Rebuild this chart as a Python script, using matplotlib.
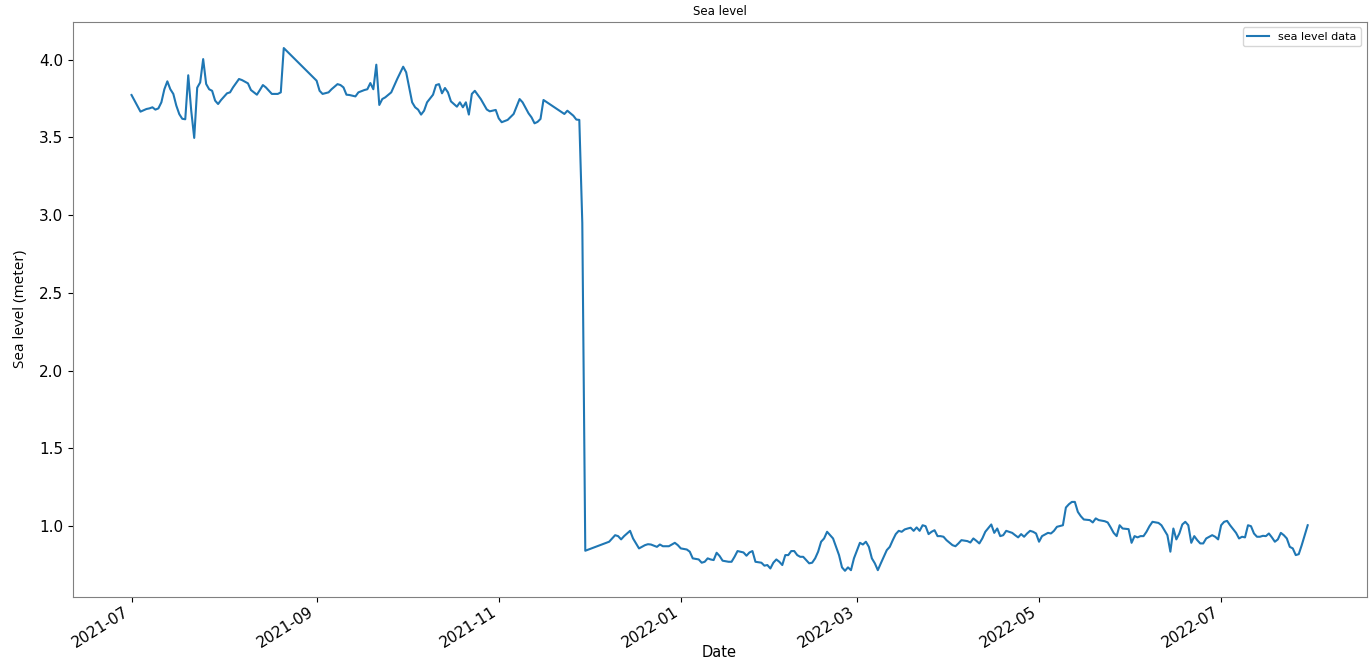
import numpy as np
import pandas as pd
import matplotlib
matplotlib.use("Agg")
import matplotlib.pyplot as plt
import matplotlib.dates as mdates

start_date = "2021-07-01"

# days since start_date
day = [
    0, 1, 3, 5, 6, 7, 8, 9, 10, 11, 12, 13, 14, 15, 16, 17, 18, 19, 20, 21,
    22, 23, 24, 25, 26, 27, 28, 29, 30, 32, 33, 34, 36, 37, 39, 40, 42, 43, 44, 45,
    47, 49, 50, 51, 62, 63, 64, 66, 67, 69, 70, 71, 72, 73, 75, 76, 78, 79, 80, 81,
    82, 83, 84, 85, 87, 88, 89, 91, 92, 93, 94, 95, 96, 97, 98, 99, 101, 102, 103, 104,
    105, 106, 107, 109, 110, 111, 112, 113, 114, 115, 117, 119, 120, 122, 123, 124, 126, 128, 130, 131,
    133, 134, 135, 136, 137, 138, 145, 146, 148, 149, 150, 151, 152, 160, 162, 163, 164, 165, 167, 168,
    169, 170, 172, 173, 174, 176, 177, 178, 180, 181, 182, 183, 184, 186, 187, 188, 190, 191, 192, 193,
    194, 195, 196, 197, 198, 200, 201, 202, 203, 205, 206, 207, 208, 209, 211, 212, 213, 214, 215, 216,
    217, 218, 219, 220, 221, 222, 223, 224, 225, 227, 228, 229, 230, 231, 232, 233, 235, 236, 237, 238,
    239, 240, 241, 242, 244, 245, 246, 247, 248, 249, 250, 251, 253, 254, 255, 256, 257, 258, 259, 260,
    261, 262, 263, 264, 265, 266, 267, 268, 269, 270, 271, 272, 273, 275, 276, 277, 278, 280, 281, 282,
    283, 284, 285, 286, 288, 289, 290, 291, 292, 293, 295, 296, 297, 298, 299, 300, 301, 302, 303, 304,
    305, 307, 308, 309, 310, 312, 313, 314, 315, 316, 317, 318, 319, 321, 322, 323, 324, 326, 327, 328,
    329, 330, 331, 332, 334, 335, 336, 337, 338, 339, 340, 341, 342, 344, 345, 347, 348, 349, 350, 351,
    352, 353, 354, 355, 356, 357, 358, 359, 360, 362, 363, 364, 365, 366, 367, 368, 370, 371, 372, 373,
    374, 375, 376, 377, 378, 379, 380, 381, 382, 383, 384, 385, 386, 387, 388, 389, 390, 391, 392, 393,
    394,
]

sea_level = [
    3.773, 3.737, 3.666, 3.683, 3.687, 3.694, 3.679, 3.687, 3.726, 3.810, 3.861, 3.810, 3.780, 3.705, 3.650, 3.620, 3.617, 3.900, 3.672, 3.497,
    3.820, 3.854, 4.004, 3.844, 3.810, 3.800, 3.737, 3.715, 3.741, 3.784, 3.790, 3.822, 3.876, 3.869, 3.848, 3.805, 3.775, 3.805, 3.837, 3.822,
    3.780, 3.780, 3.790, 4.075, 3.865, 3.800, 3.780, 3.790, 3.810, 3.843, 3.837, 3.822, 3.775, 3.773, 3.764, 3.790, 3.805, 3.810, 3.850, 3.810,
    3.968, 3.709, 3.747, 3.758, 3.790, 3.833, 3.876, 3.955, 3.919, 3.822, 3.726, 3.694, 3.679, 3.647, 3.672, 3.726, 3.775, 3.837, 3.843, 3.784,
    3.818, 3.790, 3.732, 3.698, 3.726, 3.694, 3.726, 3.647, 3.780, 3.800, 3.747, 3.680, 3.668, 3.677, 3.623, 3.598, 3.613, 3.651, 3.747, 3.726,
    3.655, 3.629, 3.591, 3.600, 3.619, 3.741, 3.651, 3.672, 3.640, 3.615, 3.613, 2.950, 0.842, 0.900, 0.942, 0.936, 0.915, 0.936, 0.970, 0.921,
    0.889, 0.857, 0.878, 0.884, 0.882, 0.867, 0.882, 0.871, 0.871, 0.882, 0.893, 0.878, 0.857, 0.850, 0.836, 0.793, 0.786, 0.765, 0.771, 0.793,
    0.786, 0.782, 0.829, 0.808, 0.778, 0.771, 0.771, 0.803, 0.840, 0.831, 0.810, 0.831, 0.840, 0.771, 0.765, 0.746, 0.750, 0.728, 0.765, 0.786,
    0.771, 0.750, 0.814, 0.814, 0.840, 0.840, 0.814, 0.803, 0.803, 0.761, 0.765, 0.793, 0.836, 0.900, 0.921, 0.964, 0.921, 0.867, 0.814, 0.735,
    0.713, 0.735, 0.717, 0.793, 0.893, 0.882, 0.900, 0.867, 0.793, 0.761, 0.717, 0.761, 0.846, 0.867, 0.910, 0.949, 0.970, 0.964, 0.979, 0.985,
    0.990, 0.970, 0.992, 0.970, 1.006, 1.000, 0.949, 0.964, 0.974, 0.936, 0.936, 0.932, 0.910, 0.878, 0.871, 0.889, 0.910, 0.904, 0.895, 0.921,
    0.906, 0.889, 0.921, 0.964, 1.011, 0.957, 0.985, 0.936, 0.942, 0.970, 0.957, 0.942, 0.928, 0.949, 0.932, 0.953, 0.970, 0.964, 0.953, 0.900,
    0.936, 0.957, 0.953, 0.970, 0.996, 1.006, 1.120, 1.141, 1.156, 1.156, 1.092, 1.064, 1.043, 1.039, 1.024, 1.050, 1.039, 1.032, 1.024, 0.992,
    0.957, 0.936, 1.006, 0.985, 0.981, 0.893, 0.936, 0.928, 0.936, 0.936, 0.964, 1.000, 1.028, 1.021, 1.006, 0.942, 0.836, 0.985, 0.915, 0.953,
    1.011, 1.028, 1.006, 0.893, 0.936, 0.910, 0.889, 0.889, 0.921, 0.942, 0.932, 0.915, 1.006, 1.028, 1.034, 1.006, 0.957, 0.921, 0.932, 0.928,
    1.006, 1.000, 0.953, 0.932, 0.932, 0.938, 0.936, 0.953, 0.928, 0.900, 0.915, 0.957, 0.942, 0.921, 0.867, 0.857, 0.814, 0.820, 0.878, 0.942,
    1.006,
]

dates = pd.Timestamp(start_date) + pd.to_timedelta(day, unit="D")

fig = plt.figure(figsize=(13.72, 6.64), dpi=100)
ax = fig.add_axes([0.053, 0.101, 0.943, 0.866])

ax.plot(dates, sea_level, color="tab:blue", linewidth=1.5, label="sea level data")

ax.xaxis.set_major_locator(mdates.MonthLocator(bymonth=[1, 3, 5, 7, 9, 11]))
ax.xaxis.set_major_formatter(mdates.DateFormatter("%Y-%m"))
for lbl in ax.get_xticklabels():
    lbl.set_rotation(32)
    lbl.set_ha("right")

ax.tick_params(axis="both", labelsize=11)
ax.tick_params(axis="x", pad=2)
ax.set_title("Sea level", fontsize=8.5, pad=5)
ax.set_xlabel("Date", fontsize=10.5, labelpad=-4)
ax.set_ylabel("Sea level (meter)", fontsize=11, family="Open Sans", labelpad=8)
ax.legend(loc="upper right", fontsize=8)

for side in ax.spines.values():
    side.set_color("#808080")

fig.savefig("out.png", dpi=100)
